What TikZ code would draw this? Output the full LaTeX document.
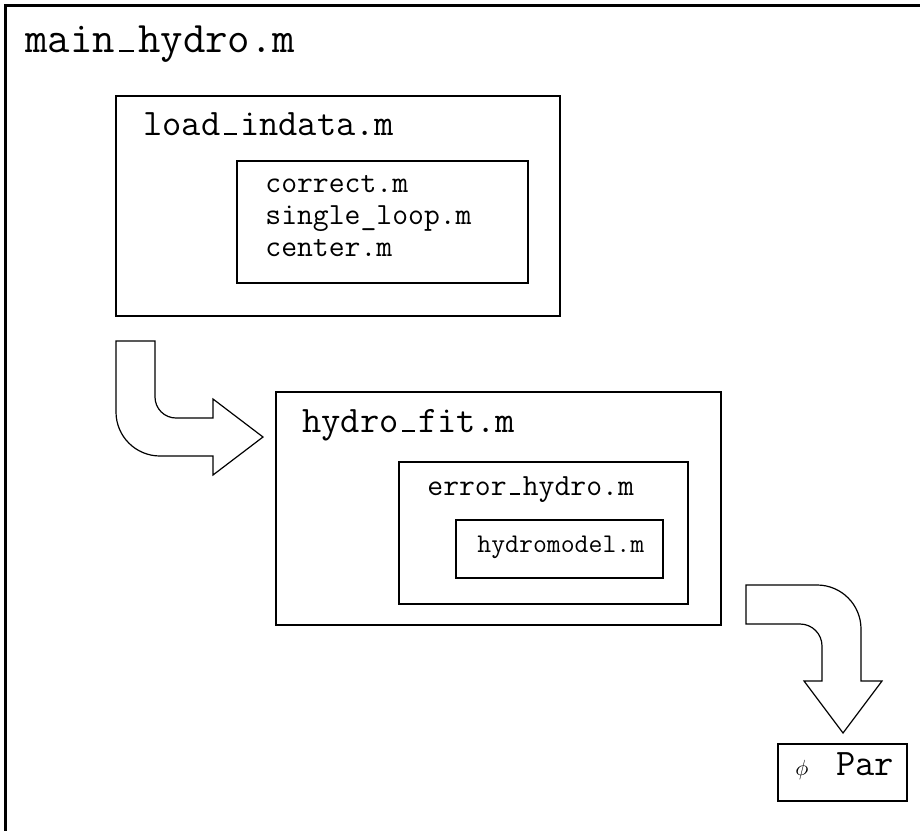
\documentclass[tikz,border=0pt]{standalone}
\usepackage{amsmath}

% underscore drawn as a short rule on the baseline
\newcommand{\lowrule}{\makebox[.525em][c]{\rule{.34em}{.05em}}}

\tikzset{
  framebox/.style={draw, line width=1pt},
  bigarrow/.style={draw, line width=0.6pt, line join=miter},
  title/.style={anchor=base west, inner sep=0pt},
}

\begin{document}
\begin{tikzpicture}[x=0.5pt, y=-0.5pt]

        % page and outer frame (cut at right and bottom)
        \useasboundingbox (0,0) rectangle (920,830);
        \clip (0,0) rectangle (920,830);
        \draw[line width=1.3pt] (940,850) -- (5.5,850) -- (5.5,5.5) -- (940,5.5);
        \node[title, font=\fontsize{21.8}{26}\ttfamily] (main) at (25,52) {main\lowrule hydro.m};

        % load_indata.m and its helpers
        \draw[framebox] (116,96) rectangle (560,316);
        \node[title, font=\fontsize{18.7}{22}\ttfamily] (load) at (143,135) {load\lowrule indata.m};
        \draw[framebox] (237,161) rectangle (528,283);
        \node[title, font=\fontsize{15.4}{16}\ttfamily, align=left] (helpers) at (265,256)
          {correct.m\\single\_loop.m\\center.m};

        % first bent arrow
        \draw[bigarrow] (116,341) -- (155,341) -- (155,397)
          arc[start angle=180, end angle=90, radius=21] -- (213,418) -- (213,399)
          -- (263,437) -- (213,475) -- (213,456) -- (160,456)
          arc[start angle=90, end angle=180, radius=44] -- cycle;

        % hydro_fit.m with the error function and the model
        \draw[framebox] (276,392) rectangle (721,625);
        \node[title, font=\fontsize{18.7}{22}\ttfamily] (fit) at (302,432) {hydro\lowrule fit.m};
        \draw[framebox] (399,462) rectangle (688,604);
        \node[title, font=\fontsize{15.4}{18}\ttfamily] (err) at (427,495) {error\lowrule hydro.m};
        \draw[framebox] (456,520) rectangle (663,578);
        \node[title, font=\fontsize{13.5}{16}\ttfamily] (model) at (477,552) {hydromodel.m};

        % second bent arrow
        \draw[bigarrow] (746,585) -- (817,585)
          arc[start angle=-90, end angle=0, radius=44] -- (861,681) -- (882,681)
          -- (843,733) -- (804,681) -- (822,681) -- (822,646)
          arc[start angle=0, end angle=-90, radius=22] -- (746,624) -- cycle;

        % result
        \draw[framebox] (778,744) rectangle (907,801);
        \node[title, font=\fontsize{18.7}{22}\ttfamily] (par) at (795,775)
          {{\fontsize{11}{13}\selectfont$\phi$}\hspace{14pt}Par};

      \end{tikzpicture}
\end{document}
